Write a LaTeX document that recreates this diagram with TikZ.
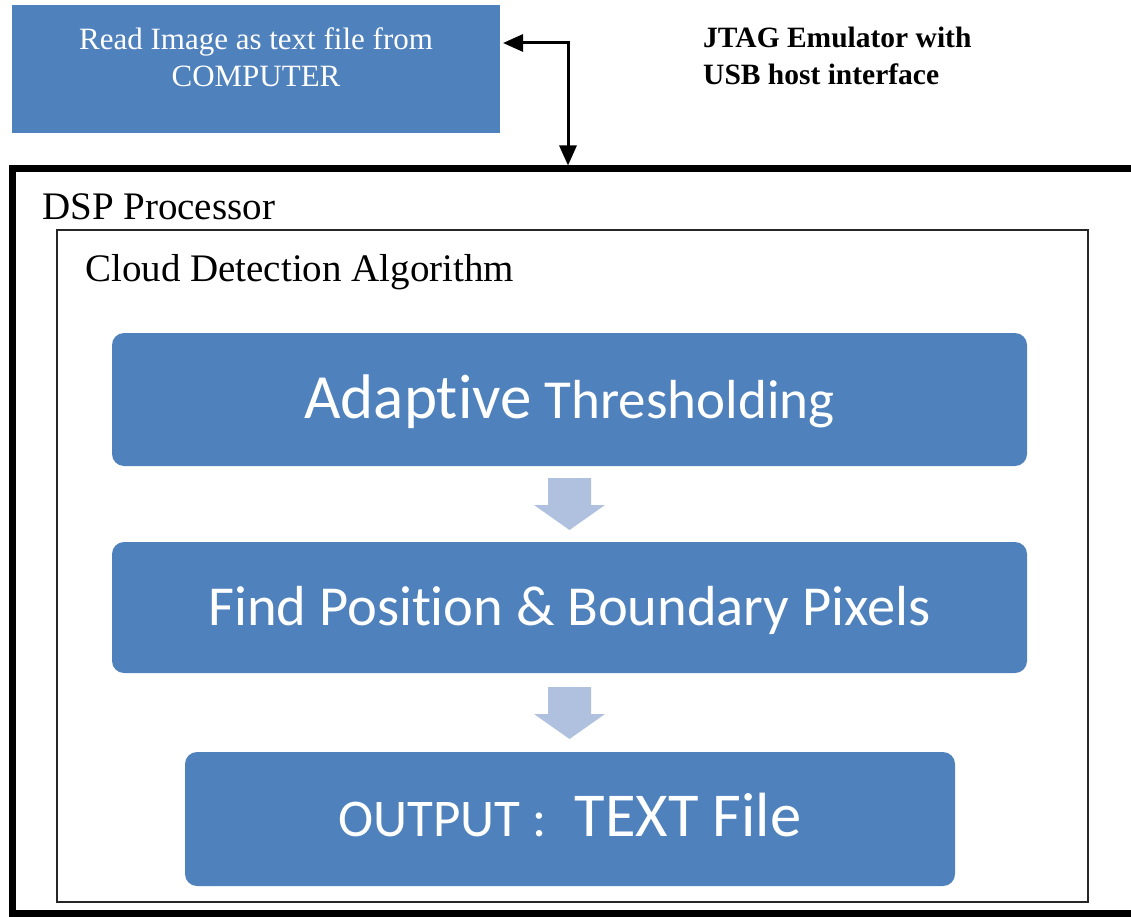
\documentclass[tikz,border=0pt]{standalone}
\usepackage{fontspec}
\setmainfont{Liberation Serif}
\newfontfamily\calib[Ligatures=NoCommon]{Carlito}
\usetikzlibrary{calc,arrows.meta}
\definecolor{boxblue}{HTML}{4F81BD}
\definecolor{arrowblue}{HTML}{B0C1DF}
\newcommand\fsz[1]{\fontsize{#1}{#1}\selectfont}
% light-blue block arrow pointing down, #1 = middle of its top edge
\newcommand\flowdown[1]{\fill[flowarrow] #1 ++(-21.5,0) -- ++(43,0) -- ++(0,27) -- ++(14,0)
  -- ++(-35.5,25) -- ++(-35.5,-25) -- ++(14,0) -- cycle;}

\begin{document}
\begin{tikzpicture}[x=1pt,y=-1pt,
  bluebox/.style={fill=boxblue, draw=none, text=white, inner xsep=0pt, inner ysep=0pt,
    outer sep=0pt, anchor=base},
  stepbox/.style={bluebox, rounded corners=12pt, font=\calib},
  framebox/.style={draw, anchor=north west, inner sep=0pt, outer sep=0pt},
  caption/.style={anchor=base west, inner sep=0pt, font=\fsz{39}},
  link/.style={line width=3pt,
    {Triangle[length=20pt,width=17pt]}-{Triangle[length=20pt,width=17pt]}},
  flowarrow/.style={fill=arrowblue}]

\useasboundingbox (0,0) rectangle (1131,917);
\clip (0,0) rectangle (1131,917);

% host computer (base = baseline of the last line)
\node[bluebox, minimum width=488pt, text height=82pt, text depth=46pt, align=center,
  font=\fontsize{31}{37}\selectfont] (comp) at (256,87)
  {Read Image as text file from\\COMPUTER};

\node[anchor=base west, inner sep=0pt, align=left,
  font=\bfseries\fontsize{29.5}{37}\selectfont] (jtag) at (703,85)
  {JTAG Emulator with\\USB host interface};

% DSP board and algorithm frame
\node[framebox, line width=7pt, minimum width=1128pt, minimum height=744pt] (dsp) at (12,169) {};
\node[caption] (dsplabel) at (42,219) {DSP Processor};

\node[framebox, line width=2pt, draw=black!85, minimum width=1031pt, minimum height=672pt] (alg) at (57,230) {};
\node[caption] (alglabel) at (85,281) {Cloud Detection Algorithm};

% processing steps
\node[stepbox, minimum width=915pt, text height=85pt, text depth=48pt] (s1) at (569.5,418)
  {{\fsz{63}Adaptive}\hspace{13pt}{\fsz{55}Thresholding}};
\node[stepbox, minimum width=915pt, text height=83pt, text depth=48pt, font=\calib\fsz{56.5}] (s2) at (569.5,625)
  {Find Position \& Boundary Pixels};
\node[stepbox, minimum width=770pt, text height=84pt, text depth=50pt] (s3) at (570,836)
  {{\fsz{53}OUTPUT\hspace{12pt}:\hspace{28pt}}{\fsz{62.5}TEXT File}};

\flowdown{($(s1.south)+(0,12)$)}
\flowdown{($(s2.south)+(0,14)$)}

% JTAG link between computer and DSP
\draw[link, shorten <=3pt, shorten >=3.5pt] ($(comp.east)+(0,-26)$) -| ($(dsp.north west)+(556,0)$);
\end{tikzpicture}
\end{document}
